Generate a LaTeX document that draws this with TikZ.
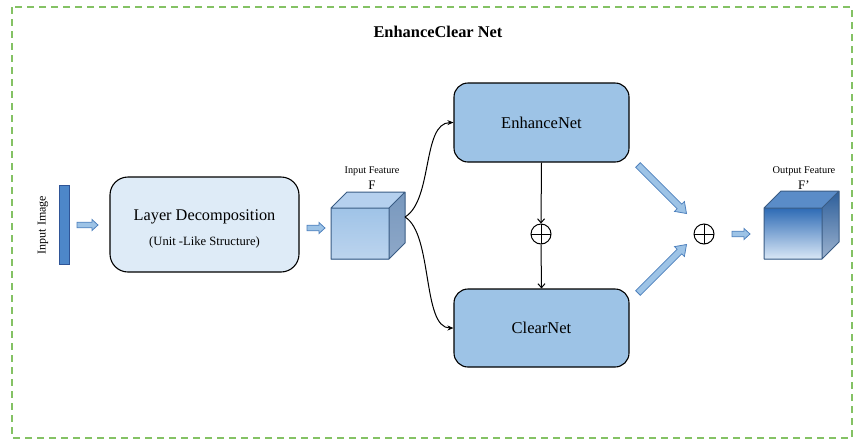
\documentclass[tikz,border=0pt]{standalone}
\usepackage{fontspec}
\setmainfont{Liberation Serif}
\usetikzlibrary{arrows.meta,calc}
\definecolor{netblue}{HTML}{9DC3E6}
\definecolor{ldblue}{HTML}{DEEBF7}
\definecolor{barblue}{HTML}{4D87C9}
\definecolor{bardark}{HTML}{2F5597}
\definecolor{arrowfill}{HTML}{9DC3E6}
\definecolor{arrowedge}{HTML}{4F81BD}
\definecolor{framegreen}{HTML}{84C264}
\definecolor{cubeedge}{HTML}{3A5C84}
\definecolor{inFront}{HTML}{9FC3E7}
\definecolor{inFrontB}{HTML}{BCD4EE}
\definecolor{inTop}{HTML}{B5D0EE}
\definecolor{inSideT}{HTML}{7898BE}
\definecolor{inSideB}{HTML}{8EA8C8}
\definecolor{outFrontT}{HTML}{2E6BB5}
\definecolor{outFrontB}{HTML}{D9E7F6}
\definecolor{outTop}{HTML}{5A8CC8}
\definecolor{outSideT}{HTML}{2C5E9A}
\definecolor{outSideB}{HTML}{9DB3CF}
\newcommand\blockarrow[7]{%
  \begin{scope}[shift={(#1,#2)},rotate=#4]
    \pgfmathsetmacro\bax{#3-#7}
    \draw[barrowstyle] (0,-#5) -- (\bax,-#5) -- (\bax,-#6) -- (#3,0) -- (\bax,#6) -- (\bax,#5) -- (0,#5) -- cycle;
  \end{scope}}
\tikzset{
  barrowstyle/.style={fill=arrowfill, draw=arrowedge, line width=0.8pt, line join=miter},
  netbox/.style={draw=black, fill=netblue, rounded corners=14pt, line width=1.1pt, inner sep=0pt, font=\rmfamily\fontsize{16.5}{19}\selectfont},
  opl/.style={circle, draw=black, line width=1pt, minimum size=20pt, inner sep=0pt,
    path picture={\draw[line width=1pt] (path picture bounding box.north) -- (path picture bounding box.south) (path picture bounding box.west) -- (path picture bounding box.east);}},
  lbl/.style={inner sep=0pt},
  conn/.style={line width=1pt, -{Stealth[length=6pt,width=5pt]}},
  vconn/.style={line width=1pt, -{Straight Barb[length=4pt,width=7pt]}},
}
\begin{document}
\begin{tikzpicture}[x=1pt,y=-1pt]
\useasboundingbox (0,0) rectangle (859,440);
\draw[framegreen, dash pattern=on 7pt off 5pt, line width=1.6pt] (12,7) rectangle (852,438);
\node[lbl, font=\rmfamily\bfseries\fontsize{16.4}{19}\selectfont] (title) at (438,32) {EnhanceClear Net};

% input image
\node[draw=bardark, fill=barblue, line width=0.8pt, minimum width=10pt, minimum height=79pt, inner sep=0pt] (img) at (64,224.5) {};
\node[lbl, rotate=90, font=\rmfamily\fontsize{12}{14}\selectfont] (imglbl) at (43,225) {Input Image};
\blockarrow{77}{225}{21}{0}{2.8}{5.5}{6}

% layer decomposition
\node[draw=black, fill=ldblue, rounded corners=18pt, line width=1.1pt, minimum width=189pt, minimum height=95pt, inner sep=0pt] (ld) at (204.5,224.5) {};
\node[lbl, font=\rmfamily\fontsize{16.3}{19}\selectfont] (ldt1) at (204.5,217) {Layer Decomposition};
\node[lbl, font=\rmfamily\fontsize{12.6}{15}\selectfont] (ldt2) at (204.5,242) {(Unit -Like Structure)};
\blockarrow{307}{228}{18}{0}{2.8}{5.5}{6}

% input feature cube
\shade[top color=inFront, middle color=inFront, bottom color=inFrontB] (331,208) rectangle (389,259);
\fill[inTop] (331,208) -- (347,192) -- (405,192) -- (389,208) -- cycle;
\shade[top color=inSideT, bottom color=inSideB] (389,208) -- (405,192) -- (405,243) -- (389,259) -- cycle;
\draw[cubeedge, line width=1pt, line join=round] (331,208) rectangle (389,259) (331,208) -- (347,192) -- (405,192) -- (389,208) (405,192) -- (405,243) -- (389,259);
\coordinate (fin) at (405,217);
\node[lbl, font=\rmfamily\fontsize{10.2}{12}\selectfont] (inl) at (372,171) {Input Feature};
\node[lbl, font=\rmfamily\fontsize{13}{15}\selectfont] (inF) at (372,185) {F};

% nets
\node[netbox, minimum width=175pt, minimum height=79pt] (enh) at (541.5,122.5) {EnhanceNet};
\node[netbox, minimum width=175pt, minimum height=78pt] (clr) at (541.5,328) {ClearNet};
\node[opl] (op1) at (541,234) {};
\node[opl] (op2) at (704,234) {};

\draw[conn] (fin) .. controls (433,200) and (422,123) .. (enh.west);
\draw[conn] (fin) .. controls (433,234) and (422,328) .. (clr.west);
\draw[vconn] (enh.south) -- (op1.north);
\draw[vconn] (op1.south) -- (clr.north);

\blockarrow{638}{165}{68.6}{-45}{3.3}{7}{10}
\blockarrow{638}{293}{68.6}{45}{3.3}{7}{10}
\blockarrow{732}{234}{18}{0}{2.8}{5.5}{6}

% output cube
\shade[top color=outFrontT, bottom color=outFrontB] (764,208) rectangle (822,259);
\fill[outTop] (764,208) -- (781,191) -- (839,191) -- (822,208) -- cycle;
\shade[top color=outSideT, bottom color=outSideB] (822,208) -- (839,191) -- (839,242) -- (822,259) -- cycle;
\draw[cubeedge, line width=1pt, line join=round] (764,208) rectangle (822,259) (764,208) -- (781,191) -- (839,191) -- (822,208) (839,191) -- (839,242) -- (822,259);
\node[lbl, font=\rmfamily\fontsize{10.4}{12}\selectfont] (outl) at (804,171) {Output Feature};
\node[lbl, font=\rmfamily\fontsize{13}{15}\selectfont] (outF) at (804,185) {F’};
\end{tikzpicture}
\end{document}
